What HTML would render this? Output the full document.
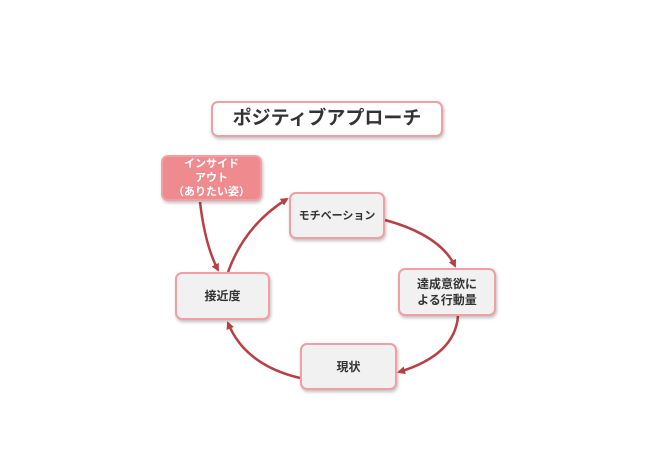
<!DOCTYPE html>
<html><head><meta charset="utf-8"><style>
body{margin:0;width:662px;height:456px;background:#fff;position:relative;overflow:hidden;font-family:"Liberation Sans","Noto Sans CJK JP",sans-serif;}
.b{position:absolute;box-sizing:border-box;border:2px solid #f0a0a4;border-radius:7px;background:#f1f1f1;display:flex;align-items:center;justify-content:center;text-align:center;font-size:12px;font-weight:bold;color:#333;line-height:16px;box-shadow:1px 2px 3px rgba(0,0,0,0.25);}
svg{position:absolute;left:0;top:0;}
</style></head><body>
<svg width="662" height="456">
<defs><marker id="a" markerWidth="8" markerHeight="8" refX="6" refY="4" orient="auto" markerUnits="userSpaceOnUse"><path d="M0,0 L8,4 L0,8 z" fill="#b84044"/></marker></defs>
<g stroke="#b84044" stroke-width="2.5" fill="none" marker-end="url(#a)">
<path d="M228,272 Q245,225 287,199"/>
<path d="M385,220 Q440,235 455,266"/>
<path d="M458,316 Q455,355 399,372"/>
<path d="M300,378 Q245,365 228,323"/>
<path d="M200,202 Q205,245 218,270"/>
</g>
</svg>
<div class="b" style="left:211px;top:101px;width:232px;height:36px;background:#fff;font-size:19px;color:#333;">ポジティブアプローチ</div>
<div class="b" style="left:161px;top:155px;width:101px;height:46px;background:#ef8a8e;border-color:#f2a0a4;color:#fff;font-size:11px;line-height:14px;">インサイド<br>アウト<br>（ありたい姿）</div>
<div class="b" style="left:289px;top:192px;width:96px;height:47px;font-size:11px;">モチベーション</div>
<div class="b" style="left:398px;top:268px;width:98px;height:48px;">達成意欲に<br>よる行動量</div>
<div class="b" style="left:300px;top:343px;width:97px;height:47px;">現状</div>
<div class="b" style="left:175px;top:272px;width:95px;height:48px;">接近度</div>
</body></html>
